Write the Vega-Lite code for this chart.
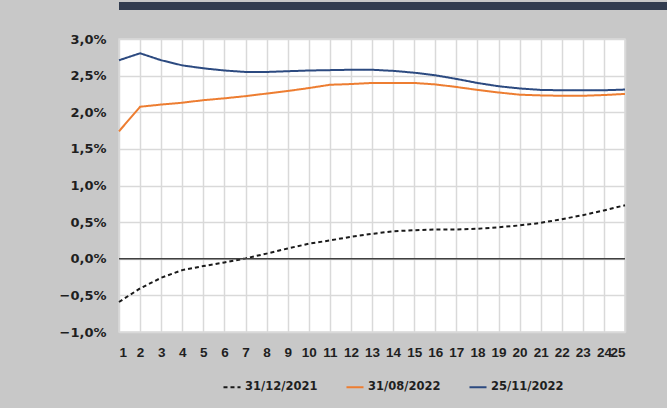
{
  "$schema": "https://vega.github.io/schema/vega-lite/v6.json",
  "background": "#c8c8c8",
  "padding": {"left": 8, "top": 0, "right": 0, "bottom": 16},
  "spacing": 21,
  "config": {"axis": {"labelOverlap": false}, "legend": {"layout": {"bottom": {"anchor": "middle"}}}},
  "datasets": {
    "curves": [
      {"t": 1, "s": "31/12/2021", "v": -0.59}, {"t": 2, "s": "31/12/2021", "v": -0.405}, {"t": 3, "s": "31/12/2021", "v": -0.26}, {"t": 4, "s": "31/12/2021", "v": -0.155}, {"t": 5, "s": "31/12/2021", "v": -0.1}, {"t": 6, "s": "31/12/2021", "v": -0.05}, {"t": 7, "s": "31/12/2021", "v": 0.005}, {"t": 8, "s": "31/12/2021", "v": 0.07}, {"t": 9, "s": "31/12/2021", "v": 0.14}, {"t": 10, "s": "31/12/2021", "v": 0.205}, {"t": 11, "s": "31/12/2021", "v": 0.25}, {"t": 12, "s": "31/12/2021", "v": 0.3}, {"t": 13, "s": "31/12/2021", "v": 0.34}, {"t": 14, "s": "31/12/2021", "v": 0.375}, {"t": 15, "s": "31/12/2021", "v": 0.39}, {"t": 16, "s": "31/12/2021", "v": 0.4}, {"t": 17, "s": "31/12/2021", "v": 0.4}, {"t": 18, "s": "31/12/2021", "v": 0.41}, {"t": 19, "s": "31/12/2021", "v": 0.43}, {"t": 20, "s": "31/12/2021", "v": 0.455}, {"t": 21, "s": "31/12/2021", "v": 0.49}, {"t": 22, "s": "31/12/2021", "v": 0.54}, {"t": 23, "s": "31/12/2021", "v": 0.595}, {"t": 24, "s": "31/12/2021", "v": 0.66}, {"t": 25, "s": "31/12/2021", "v": 0.73},
      {"t": 1, "s": "31/08/2022", "v": 1.74}, {"t": 2, "s": "31/08/2022", "v": 2.075}, {"t": 3, "s": "31/08/2022", "v": 2.105}, {"t": 4, "s": "31/08/2022", "v": 2.13}, {"t": 5, "s": "31/08/2022", "v": 2.165}, {"t": 6, "s": "31/08/2022", "v": 2.19}, {"t": 7, "s": "31/08/2022", "v": 2.22}, {"t": 8, "s": "31/08/2022", "v": 2.255}, {"t": 9, "s": "31/08/2022", "v": 2.29}, {"t": 10, "s": "31/08/2022", "v": 2.33}, {"t": 11, "s": "31/08/2022", "v": 2.375}, {"t": 12, "s": "31/08/2022", "v": 2.385}, {"t": 13, "s": "31/08/2022", "v": 2.4}, {"t": 14, "s": "31/08/2022", "v": 2.4}, {"t": 15, "s": "31/08/2022", "v": 2.4}, {"t": 16, "s": "31/08/2022", "v": 2.38}, {"t": 17, "s": "31/08/2022", "v": 2.345}, {"t": 18, "s": "31/08/2022", "v": 2.305}, {"t": 19, "s": "31/08/2022", "v": 2.27}, {"t": 20, "s": "31/08/2022", "v": 2.24}, {"t": 21, "s": "31/08/2022", "v": 2.23}, {"t": 22, "s": "31/08/2022", "v": 2.225}, {"t": 23, "s": "31/08/2022", "v": 2.225}, {"t": 24, "s": "31/08/2022", "v": 2.235}, {"t": 25, "s": "31/08/2022", "v": 2.25},
      {"t": 1, "s": "25/11/2022", "v": 2.71}, {"t": 2, "s": "25/11/2022", "v": 2.805}, {"t": 3, "s": "25/11/2022", "v": 2.71}, {"t": 4, "s": "25/11/2022", "v": 2.64}, {"t": 5, "s": "25/11/2022", "v": 2.6}, {"t": 6, "s": "25/11/2022", "v": 2.57}, {"t": 7, "s": "25/11/2022", "v": 2.55}, {"t": 8, "s": "25/11/2022", "v": 2.55}, {"t": 9, "s": "25/11/2022", "v": 2.56}, {"t": 10, "s": "25/11/2022", "v": 2.57}, {"t": 11, "s": "25/11/2022", "v": 2.575}, {"t": 12, "s": "25/11/2022", "v": 2.58}, {"t": 13, "s": "25/11/2022", "v": 2.58}, {"t": 14, "s": "25/11/2022", "v": 2.565}, {"t": 15, "s": "25/11/2022", "v": 2.54}, {"t": 16, "s": "25/11/2022", "v": 2.505}, {"t": 17, "s": "25/11/2022", "v": 2.455}, {"t": 18, "s": "25/11/2022", "v": 2.4}, {"t": 19, "s": "25/11/2022", "v": 2.355}, {"t": 20, "s": "25/11/2022", "v": 2.325}, {"t": 21, "s": "25/11/2022", "v": 2.305}, {"t": 22, "s": "25/11/2022", "v": 2.3}, {"t": 23, "s": "25/11/2022", "v": 2.3}, {"t": 24, "s": "25/11/2022", "v": 2.3}, {"t": 25, "s": "25/11/2022", "v": 2.31}
    ]
  },
  "vconcat": [
    {
      "width": 659,
      "height": 8,
      "data": {"values": [{}]},
      "mark": {"type": "text", "text": ""},
      "encoding": {},
      "view": {"fill": "#323c4f", "stroke": null}
    },
    {
      "width": 506,
      "height": 293,
      "view": {"fill": "#ffffff", "stroke": "#d9d9d9", "strokeWidth": 1.5},
      "encoding": {
        "y": {
          "field": "v", "type": "quantitative",
          "scale": {"domain": [-1, 3], "nice": false},
          "axis": {
            "values": [-1, -0.5, 0, 0.5, 1, 1.5, 2, 2.5, 3],
            "labelExpr": "replace(format(datum.value, '.1f'), '.', ',') + '%'",
            "title": null, "grid": true, "gridColor": "#d9d9d9", "gridWidth": 1.5,
            "domain": false, "ticks": false, "labelPadding": 13, "minExtent": 110, "labelOverlap": false,
            "labelFont": "DejaVu Sans", "labelFontWeight": "bold", "labelFontSize": 13, "labelColor": "#1f1f1f"
          }
        }
      },
      "layer": [
        {
          "data": {"name": "curves"},
          "mark": {"type": "line", "interpolate": "linear", "strokeWidth": 2},
          "encoding": {
            "x": {
              "field": "t", "type": "quantitative",
              "scale": {"domain": [1, 25], "nice": false, "zero": false},
              "axis": {
                "values": [1,2,3,4,5,6,7,8,9,10,11,12,13,14,15,16,17,18,19,20,21,22,23,24,25],
                "format": "d", "title": null, "grid": true, "gridColor": "#d9d9d9", "gridWidth": 1.5,
                "domain": false, "ticks": false, "labelPadding": 13, "labelOverlap": false,
                "labelFont": "Liberation Sans", "labelFontWeight": "bold", "labelFontSize": 13.5, "labelColor": "#1f1f1f"
              }
            },
            "color": {
              "field": "s", "type": "nominal",
              "scale": {"domain": ["31/12/2021", "31/08/2022", "25/11/2022"], "range": ["#1a1a1a", "#ed7d31", "#2c4a80"]},
              "legend": {
                "title": null, "orient": "bottom", "offset": 17, "direction": "horizontal",
                "symbolType": "stroke", "symbolSize": 290, "symbolStrokeWidth": 2, "labelOffset": 3,
                "columnPadding": 24,
                "labelFont": "DejaVu Sans", "labelFontWeight": "bold", "labelFontSize": 11.5, "labelColor": "#1f1f1f"
              }
            },
            "strokeDash": {
              "field": "s", "type": "nominal",
              "scale": {"domain": ["31/12/2021", "31/08/2022", "25/11/2022"], "range": [[4, 3], [1, 0], [1, 0]]},
              "legend": {
                "title": null, "orient": "bottom", "offset": 17, "direction": "horizontal",
                "symbolType": "stroke", "symbolSize": 290, "symbolStrokeWidth": 2, "labelOffset": 3,
                "columnPadding": 24,
                "labelFont": "DejaVu Sans", "labelFontWeight": "bold", "labelFontSize": 11.5, "labelColor": "#1f1f1f"
              }
            }
          }
        },
        {
          "data": {"values": [{"v": 0}]},
          "mark": {"type": "rule", "color": "#404040", "strokeWidth": 1.3},
          "encoding": {}
        }
      ]
    }
  ]
}
